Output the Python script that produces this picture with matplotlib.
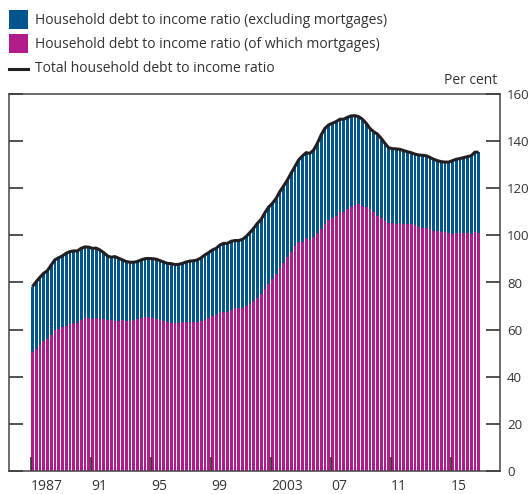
import matplotlib
matplotlib.use("Agg")
import matplotlib.pyplot as plt
import numpy as np
from matplotlib.patches import Rectangle
from matplotlib.lines import Line2D

# quarterly data, 1987 Q1 to 2016 Q4 (per cent of income)
start_year = 1987
total = [78.2, 80.3, 82.2, 83.9, 85.0, 87.4, 89.6, 90.5, 91.3, 92.4,
         93.1, 93.4, 93.4, 94.5, 95.1, 95.0, 94.5, 94.6, 93.8, 92.7,
         91.3, 90.7, 91.0, 90.3, 89.6, 88.9, 88.6, 88.6, 88.9, 89.6,
         90.1, 90.2, 90.1, 89.9, 89.3, 88.7, 88.1, 88.0, 87.6, 87.7,
         88.1, 88.7, 89.1, 89.2, 89.6, 90.5, 91.7, 92.7, 93.8, 94.5,
         95.9, 96.6, 96.6, 97.5, 97.8, 97.8, 98.3, 99.5, 101.2, 103.0,
         105.1, 106.8, 109.6, 112.0, 113.6, 115.7, 118.6, 121.0, 123.5, 126.4,
         129.2, 132.0, 133.7, 135.1, 134.8, 136.2, 139.1, 142.6, 145.4, 146.9,
         147.6, 148.3, 149.3, 149.3, 150.1, 150.7, 150.8, 150.4, 149.3, 147.6,
         145.4, 144.0, 143.0, 141.2, 139.1, 137.2, 136.8, 136.7, 136.5, 136.0,
         135.5, 135.1, 134.5, 134.1, 134.0, 133.8, 133.1, 132.3, 131.7, 131.3,
         131.1, 131.1, 131.7, 132.3, 132.6, 133.0, 133.4, 133.8, 135.3, 135.3]
mortgages = [50.6, 51.6, 53.3, 55.0, 55.9, 57.7, 59.8, 60.3, 61.1, 61.7,
             62.4, 62.7, 62.9, 64.1, 65.1, 65.1, 64.4, 65.1, 64.4, 64.4,
             64.1, 64.1, 63.7, 63.7, 64.1, 63.7, 63.7, 64.1, 64.4, 64.8,
             65.2, 65.2, 65.1, 64.4, 64.0, 63.5, 63.2, 62.9, 62.7, 62.7,
             63.2, 63.2, 63.2, 63.2, 63.2, 63.5, 64.1, 64.9, 65.8, 66.4,
             67.6, 67.6, 67.6, 68.5, 69.2, 69.2, 69.2, 70.0, 70.9, 72.0,
             73.4, 75.1, 77.1, 79.3, 81.4, 83.6, 86.0, 88.1, 91.0, 93.1,
             95.5, 97.3, 97.1, 98.8, 98.1, 99.2, 100.9, 102.7, 104.8, 106.5,
             107.5, 108.2, 109.8, 110.1, 111.1, 111.9, 112.8, 113.2, 112.5, 111.9,
             111.1, 110.1, 108.2, 107.2, 106.1, 105.4, 105.1, 105.0, 105.1, 104.7,
             104.7, 104.7, 104.3, 103.7, 103.3, 103.2, 102.7, 102.0, 101.7, 101.4,
             101.3, 100.9, 100.7, 100.9, 100.9, 100.9, 100.9, 100.6, 101.4, 101.0]
tick_years = [1987, 1991, 1995, 1999, 2003, 2007, 2011, 2015]
tick_labels = ['1987', '91', '95', '99', '2003', '07', '11', '15']
legend_labels = ['Household debt to income ratio (excluding mortgages)',
                 'Household debt to income ratio (of which mortgages)',
                 'Total household debt to income ratio']

BLUE = '#00558C'
PINK = '#B01D8A'
LINE = '#231F20'
TEXT = '#333333'

plt.rcParams['font.family'] = ['Open Sans', 'DejaVu Sans']
plt.rcParams['font.size'] = 10

total = np.array(total)
mortgages = np.array(mortgages)
non_mortgage = total - mortgages
x = start_year + np.arange(len(total)) / 4
w = 0.25 * 0.74

W, H = 532, 494
fig = plt.figure(figsize=(W / 100, H / 100), dpi=100)
ax = fig.add_axes([9 / W, 1 - 471 / H, 491 / W, 377 / H])

ax.bar(x, mortgages, width=w, align='edge', color=PINK, linewidth=0)
ax.bar(x, non_mortgage, width=w, bottom=mortgages, align='edge', color=BLUE, linewidth=0)
ax.plot(x + w / 2, total, color=LINE, lw=2.2, solid_capstyle='butt', zorder=3)

ax.set_xlim(start_year - 22 / 15, start_year + 469 / 15)
ax.set_ylim(0, 160)
ax.set_yticks(range(0, 161, 20))
ax.set_xticks(tick_years)
ax.set_xticklabels(tick_labels, ha='left')

ax.tick_params(axis='both', direction='in', length=10, width=1.2, colors='#333333',
               labelcolor=TEXT, labelsize=10)
ax.tick_params(axis='y', left=True, right=True, labelleft=False, labelright=True,
               pad=5, labelsize=9.5)
ax.tick_params(axis='x', pad=6)
for s in ax.spines.values():
    s.set_color('#444444')
    s.set_linewidth(1.1)

ax.annotate('Per cent', xy=(1, 1), xycoords='axes fraction', xytext=(-2, 4),
            textcoords='offset points', ha='right', va='bottom', color=TEXT, fontsize=10)

# legend drawn by hand in pixel positions
def fx(px):
    return px / W

def fy(py):
    return 1 - py / H

fig.add_artist(Rectangle((fx(9), fy(29)), 19 / W, 19 / H, transform=fig.transFigure,
                         color=BLUE, lw=0))
fig.add_artist(Rectangle((fx(9), fy(53)), 19 / W, 19 / H, transform=fig.transFigure,
                         color=PINK, lw=0))
fig.add_artist(Line2D([fx(9), fx(28)], [fy(69), fy(69)], transform=fig.transFigure,
                      color=LINE, lw=2.2))
for py, lab in zip([20, 44, 69], legend_labels):
    fig.text(fx(35), fy(py), lab, ha='left', va='center', color=TEXT, fontsize=10)

fig.savefig('out.png', dpi=100)
